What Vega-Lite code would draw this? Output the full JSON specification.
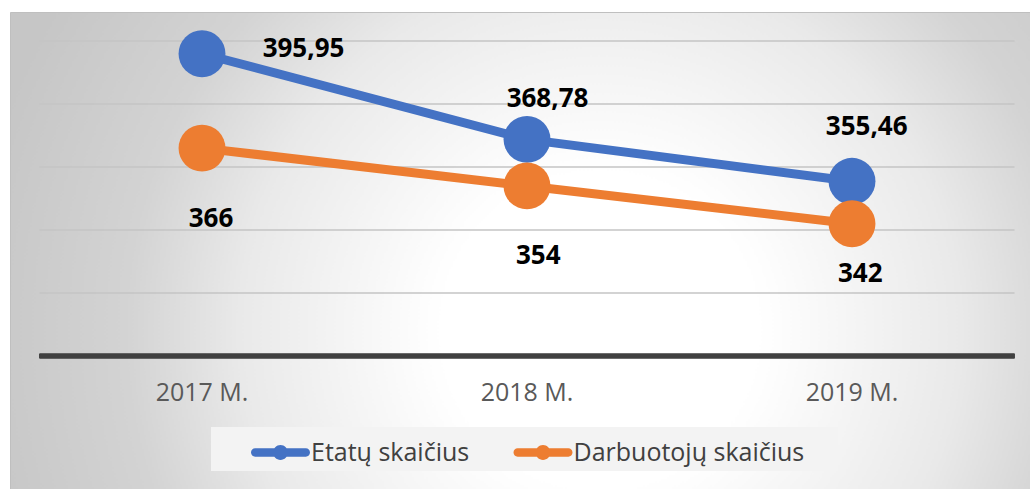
{
  "$schema": "https://vega.github.io/schema/vega-lite/v6.json",
  "width": 1020,
  "height": 477,
  "autosize": {"type": "none"},
  "padding": {"left": 10, "top": 12, "right": 0, "bottom": 0},
  "background": "#ffffff",
  "view": {
    "fill": {"gradient": "radial", "x1": 0.578, "y1": 0.578, "r1": 0, "x2": 0.578, "y2": 0.578, "r2": 0.62,
      "stops": [{"offset": 0, "color": "#ffffff"}, {"offset": 0.25, "color": "#ffffff"}, {"offset": 0.57, "color": "#e9e9e9"}, {"offset": 0.75, "color": "#d3d3d3"}, {"offset": 1, "color": "#c6c6c6"}]},
    "stroke": "#bfbfbf",
    "strokeWidth": 1
  },
  "config": {"font": "Open Sans"},
  "resolve": {"legend": {"color": "independent"}},
  "datasets": {
    "main": [
      {"year": 2017, "series": "Etatų skaičius", "value": 395.95, "label": "395,95"},
      {"year": 2018, "series": "Etatų skaičius", "value": 368.78, "label": "368,78"},
      {"year": 2019, "series": "Etatų skaičius", "value": 355.46, "label": "355,46"},
      {"year": 2017, "series": "Darbuotojų skaičius", "value": 366, "label": "366"},
      {"year": 2018, "series": "Darbuotojų skaičius", "value": 354, "label": "354"},
      {"year": 2019, "series": "Darbuotojų skaičius", "value": 342, "label": "342"}
    ],
    "grid": [{"v": 320}, {"v": 340}, {"v": 360}, {"v": 380}, {"v": 400}],
    "cats": [{"year": 2017, "name": "2017 M."}, {"year": 2018, "name": "2018 M."}, {"year": 2019, "name": "2019 M."}]
  },
  "layer": [
    {
      "data": {"name": "grid"},
      "mark": {"type": "rule", "color": "#c4c4c4", "strokeWidth": 1.5},
      "encoding": {
        "y": {"field": "v", "type": "quantitative", "scale": {"domain": [257.8, 409.2], "nice": false, "zero": false}, "axis": null},
        "x": {"datum": 2016.5, "type": "quantitative", "scale": {"domain": [2016.4092, 2019.5477], "nice": false, "zero": false}, "axis": null},
        "x2": {"datum": 2019.5}
      }
    },
    {
      "data": {"name": "grid"},
      "mark": {"type": "rule", "color": "#404040", "strokeWidth": 4.5},
      "encoding": {
        "y": {"datum": 300, "type": "quantitative", "scale": {"domain": [257.8, 409.2], "nice": false, "zero": false}, "axis": null},
        "x": {"datum": 2016.5, "type": "quantitative", "scale": {"domain": [2016.4092, 2019.5477], "nice": false, "zero": false}, "axis": null},
        "x2": {"datum": 2019.5}
      }
    },
    {
      "data": {"name": "main"},
      "mark": {"type": "line", "strokeWidth": 9, "strokeCap": "round"},
      "encoding": {
        "x": {"field": "year", "type": "quantitative", "scale": {"domain": [2016.4092, 2019.5477], "nice": false, "zero": false}, "axis": null},
        "y": {"field": "value", "type": "quantitative", "scale": {"domain": [257.8, 409.2], "nice": false, "zero": false}, "axis": null},
        "color": {"field": "series", "type": "nominal", "scale": {"domain": ["Etatų skaičius", "Darbuotojų skaičius"], "range": ["#4472C4", "#ED7D31"]}, "legend": null}
      }
    },
    {
      "data": {"name": "main"},
      "mark": {"type": "point", "filled": true, "opacity": 1, "size": 2200, "shape": "circle"},
      "encoding": {
        "x": {"field": "year", "type": "quantitative", "scale": {"domain": [2016.4092, 2019.5477], "nice": false, "zero": false}, "axis": null},
        "y": {"field": "value", "type": "quantitative", "scale": {"domain": [257.8, 409.2], "nice": false, "zero": false}, "axis": null},
        "color": {
          "field": "series", "type": "nominal",
          "scale": {"domain": ["Etatų skaičius", "Darbuotojų skaičius"], "range": ["#4472C4", "#ED7D31"]},
          "legend": {
            "title": " ",
            "titleOrient": "right",
            "titleFontSize": 10,
            "titlePadding": 28,
            "orient": "none",
            "legendX": 201,
            "legendY": 415,
            "direction": "horizontal",
            "padding": 5.5,
            "fillColor": "#f3f3f3",
            "symbolType": "M-1.2675,-0.2075 L1.2675,-0.2075 A0.2075,0.2075 0 0,1 1.2675,0.2075 L-1.2675,0.2075 A0.2075,0.2075 0 0,1 -1.2675,-0.2075 Z M0.37,0 A0.37,0.37 0 1,1 -0.37,0 A0.37,0.37 0 1,1 0.37,0 Z",
            "symbolSize": 1600,
            "symbolOffset": 44,
            "symbolStrokeWidth": 0,
            "symbolOpacity": 1,
            "labelOffset": 10.5,
            "columnPadding": 9.5,
            "labelFont": "Open Sans",
            "labelFontSize": 25,
            "labelColor": "#404040",
            "labelLimit": 400
          }
        }
      }
    },
    {
      "data": {"name": "main"},
      "transform": [{"filter": "datum.year == 2017 && datum.series == 'Etatų skaičius'"}],
      "mark": {"type": "text", "font": "Open Sans", "fontWeight": "bold", "fontSize": 26, "color": "#000000", "align": "center", "baseline": "alphabetic", "dx": 101.5, "dy": 3},
      "encoding": {
        "x": {"field": "year", "type": "quantitative", "scale": {"domain": [2016.4092, 2019.5477], "nice": false, "zero": false}, "axis": null},
        "y": {"field": "value", "type": "quantitative", "scale": {"domain": [257.8, 409.2], "nice": false, "zero": false}, "axis": null},
        "text": {"field": "label"}
      }
    },
    {
      "data": {"name": "main"},
      "transform": [{"filter": "datum.year == 2018 && datum.series == 'Etatų skaičius'"}],
      "mark": {"type": "text", "font": "Open Sans", "fontWeight": "bold", "fontSize": 26, "color": "#000000", "align": "center", "baseline": "alphabetic", "dx": 20.5, "dy": -32},
      "encoding": {
        "x": {"field": "year", "type": "quantitative", "scale": {"domain": [2016.4092, 2019.5477], "nice": false, "zero": false}, "axis": null},
        "y": {"field": "value", "type": "quantitative", "scale": {"domain": [257.8, 409.2], "nice": false, "zero": false}, "axis": null},
        "text": {"field": "label"}
      }
    },
    {
      "data": {"name": "main"},
      "transform": [{"filter": "datum.year == 2019 && datum.series == 'Etatų skaičius'"}],
      "mark": {"type": "text", "font": "Open Sans", "fontWeight": "bold", "fontSize": 26, "color": "#000000", "align": "center", "baseline": "alphabetic", "dx": 14.7, "dy": -46},
      "encoding": {
        "x": {"field": "year", "type": "quantitative", "scale": {"domain": [2016.4092, 2019.5477], "nice": false, "zero": false}, "axis": null},
        "y": {"field": "value", "type": "quantitative", "scale": {"domain": [257.8, 409.2], "nice": false, "zero": false}, "axis": null},
        "text": {"field": "label"}
      }
    },
    {
      "data": {"name": "main"},
      "transform": [{"filter": "datum.year == 2017 && datum.series == 'Darbuotojų skaičius'"}],
      "mark": {"type": "text", "font": "Open Sans", "fontWeight": "bold", "fontSize": 26, "color": "#000000", "align": "center", "baseline": "alphabetic", "dx": 9, "dy": 79},
      "encoding": {
        "x": {"field": "year", "type": "quantitative", "scale": {"domain": [2016.4092, 2019.5477], "nice": false, "zero": false}, "axis": null},
        "y": {"field": "value", "type": "quantitative", "scale": {"domain": [257.8, 409.2], "nice": false, "zero": false}, "axis": null},
        "text": {"field": "label"}
      }
    },
    {
      "data": {"name": "main"},
      "transform": [{"filter": "datum.year == 2018 && datum.series == 'Darbuotojų skaičius'"}],
      "mark": {"type": "text", "font": "Open Sans", "fontWeight": "bold", "fontSize": 26, "color": "#000000", "align": "center", "baseline": "alphabetic", "dx": 11.3, "dy": 78},
      "encoding": {
        "x": {"field": "year", "type": "quantitative", "scale": {"domain": [2016.4092, 2019.5477], "nice": false, "zero": false}, "axis": null},
        "y": {"field": "value", "type": "quantitative", "scale": {"domain": [257.8, 409.2], "nice": false, "zero": false}, "axis": null},
        "text": {"field": "label"}
      }
    },
    {
      "data": {"name": "main"},
      "transform": [{"filter": "datum.year == 2019 && datum.series == 'Darbuotojų skaičius'"}],
      "mark": {"type": "text", "font": "Open Sans", "fontWeight": "bold", "fontSize": 26, "color": "#000000", "align": "center", "baseline": "alphabetic", "dx": 8.3, "dy": 58},
      "encoding": {
        "x": {"field": "year", "type": "quantitative", "scale": {"domain": [2016.4092, 2019.5477], "nice": false, "zero": false}, "axis": null},
        "y": {"field": "value", "type": "quantitative", "scale": {"domain": [257.8, 409.2], "nice": false, "zero": false}, "axis": null},
        "text": {"field": "label"}
      }
    },
    {
      "data": {"name": "cats"},
      "mark": {"type": "text", "font": "Open Sans", "fontSize": 25, "color": "#595959", "align": "center", "baseline": "middle"},
      "encoding": {
        "x": {"field": "year", "type": "quantitative", "scale": {"domain": [2016.4092, 2019.5477], "nice": false, "zero": false}, "axis": null},
        "y": {"datum": 288.3, "type": "quantitative", "scale": {"domain": [257.8, 409.2], "nice": false, "zero": false}, "axis": null},
        "text": {"field": "name"}
      }
    }
  ]
}
